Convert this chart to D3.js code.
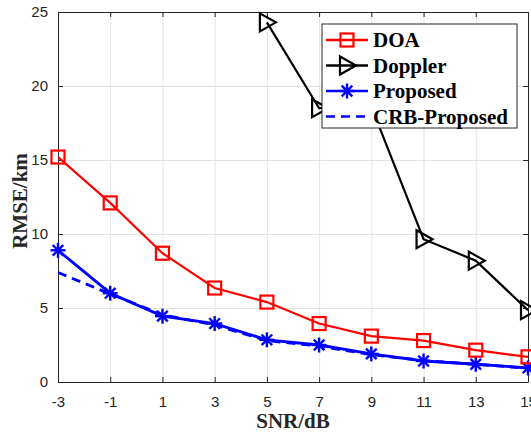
<!DOCTYPE html>
<html>
<head>
<meta charset="utf-8">
<script src="https://cdn.jsdelivr.net/npm/d3@7"></script>
<style>
  body { margin: 0; background: #fff; }
  svg { display: block; }
  .tick text { font-family: "Liberation Sans", Arial, sans-serif; font-size: 15px; fill: #262626; }
  .axis-label { font-family: "Liberation Serif", "Times New Roman", serif; font-weight: bold; font-size: 21px; fill: #262626; }
  .legend-text { font-family: "Liberation Serif", "Times New Roman", serif; font-weight: bold; font-size: 21px; fill: #000; }
</style>
</head>
<body>
<script>
var snr = [-3, -1, 1, 3, 5, 7, 9, 11, 13, 15];
var doa = [15.2, 12.1, 8.7, 6.35, 5.4, 3.95, 3.1, 2.8, 2.15, 1.7];
var dopplerSnr = [5, 7, 9, 11, 13, 15];
var doppler = [24.3, 18.5, 18.6, 9.65, 8.2, 4.85];
var proposed = [8.9, 6.0, 4.45, 3.95, 2.85, 2.5, 1.9, 1.42, 1.2, 0.95];
var crb = [7.4, 5.95, 4.55, 3.85, 2.8, 2.42, 1.85, 1.45, 1.2, 0.93];
var xTicks = [-3, -1, 1, 3, 5, 7, 9, 11, 13, 15];
var yTicks = [0, 5, 10, 15, 20, 25];

var W = 531, H = 435;
var margin = {top: 12, right: 3, bottom: 53, left: 58},
    width = W - margin.left - margin.right,
    height = H - margin.top - margin.bottom;

var x = d3.scaleLinear().domain([-3, 15]).range([0, width]);
var y = d3.scaleLinear().domain([0, 25]).range([height, 0]);
var plain = function(d) { return String(d); };

var svg = d3.select("body").append("svg")
    .attr("width", W)
    .attr("height", H);
var g = svg.append("g")
    .attr("transform", "translate(" + margin.left + "," + margin.top + ")");

svg.append("defs").append("clipPath").attr("id", "clip")
  .append("rect").attr("width", width).attr("height", height);

// grid
g.append("g")
    .attr("transform", "translate(0," + height + ")")
    .call(d3.axisBottom(x).tickValues(xTicks).tickSize(-height).tickFormat(""))
    .call(function(s) { s.select(".domain").remove(); s.selectAll("line").attr("stroke", "#e3e3e3"); });
g.append("g")
    .call(d3.axisLeft(y).tickValues(yTicks).tickSize(-width).tickFormat(""))
    .call(function(s) { s.select(".domain").remove(); s.selectAll("line").attr("stroke", "#e3e3e3"); });

// axes (box with inward ticks)
function styleAxis(s) {
  s.select(".domain").attr("stroke", "#262626");
  s.selectAll(".tick line").attr("stroke", "#262626");
}
g.append("g")
    .attr("transform", "translate(0," + height + ")")
    .call(d3.axisBottom(x).tickValues(xTicks).tickFormat(plain).tickSizeInner(-5).tickSizeOuter(0).tickPadding(14))
    .call(styleAxis);
g.append("g")
    .call(d3.axisTop(x).tickValues(xTicks).tickSizeInner(-5).tickSizeOuter(0).tickFormat(""))
    .call(styleAxis);
g.append("g")
    .call(d3.axisLeft(y).tickValues(yTicks).tickFormat(plain).tickSizeInner(-5).tickSizeOuter(0).tickPadding(10))
    .call(styleAxis);
g.append("g")
    .attr("transform", "translate(" + width + ",0)")
    .call(d3.axisRight(y).tickValues(yTicks).tickSizeInner(-5).tickSizeOuter(0).tickFormat(""))
    .call(styleAxis);

// axis labels
svg.append("text")
    .attr("class", "axis-label")
    .attr("x", 293)
    .attr("y", 428)
    .attr("text-anchor", "middle")
    .text("SNR/dB");
svg.append("text")
    .attr("class", "axis-label")
    .attr("transform", "translate(27," + (margin.top + height / 2 + 4) + ") rotate(-90)")
    .attr("text-anchor", "middle")
    .text("RMSE/km");

var line = d3.line().x(function(d) { return x(d[0]); }).y(function(d) { return y(d[1]); });
var plot = g.append("g");

function drawSquare(sel, cx, cy, color) {
  sel.append("rect").attr("x", cx - 6.5).attr("y", cy - 6.5).attr("width", 13).attr("height", 13)
    .attr("fill", "none").attr("stroke", color).attr("stroke-width", 2.2);
}
function drawTriangle(sel, cx, cy, color) {
  var p = [[cx - 7, cy - 9], [cx + 9, cy], [cx - 7, cy + 9]];
  sel.append("path").attr("d", "M" + p.join("L") + "Z")
    .attr("fill", "none").attr("stroke", color).attr("stroke-width", 2.2);
}
function drawStar(sel, cx, cy, color) {
  var r = 7.5;
  [0, 45, 90, 135].forEach(function(a) {
    var rad = a * Math.PI / 180;
    sel.append("line")
      .attr("x1", cx - r * Math.cos(rad)).attr("y1", cy - r * Math.sin(rad))
      .attr("x2", cx + r * Math.cos(rad)).attr("y2", cy + r * Math.sin(rad))
      .attr("stroke", color).attr("stroke-width", 2.4);
  });
}

// CRB (dashed)
plot.append("path")
    .datum(d3.zip(snr, crb))
    .attr("d", line).attr("fill", "none").attr("stroke", "#0000ff")
    .attr("stroke-width", 2.8).attr("stroke-dasharray", "9,6")
    .attr("clip-path", "url(#clip)");

// Proposed
plot.append("path")
    .datum(d3.zip(snr, proposed))
    .attr("d", line).attr("fill", "none").attr("stroke", "#0000ff").attr("stroke-width", 2.8)
    .attr("clip-path", "url(#clip)");
snr.forEach(function(v, i) { drawStar(plot, x(v), y(proposed[i]), "#0000ff"); });

// DOA
plot.append("path")
    .datum(d3.zip(snr, doa))
    .attr("d", line).attr("fill", "none").attr("stroke", "#ff0000").attr("stroke-width", 2.2)
    .attr("clip-path", "url(#clip)");
snr.forEach(function(v, i) { drawSquare(plot, x(v), y(doa[i]), "#ff0000"); });

// Doppler
plot.append("path")
    .datum(d3.zip(dopplerSnr, doppler))
    .attr("d", line).attr("fill", "none").attr("stroke", "#000").attr("stroke-width", 2.2)
    .attr("clip-path", "url(#clip)");
dopplerSnr.forEach(function(v, i) { drawTriangle(plot, x(v), y(doppler[i]), "#000"); });

// legend
var lg = svg.append("g").attr("transform", "translate(322,24)");
lg.append("rect").attr("width", 195).attr("height", 104)
    .attr("fill", "#fff").attr("stroke", "#262626").attr("stroke-width", 1);
var items = [
  {name: "DOA", color: "#ff0000", marker: drawSquare, dash: null},
  {name: "Doppler", color: "#000", marker: drawTriangle, dash: null},
  {name: "Proposed", color: "#0000ff", marker: drawStar, dash: null},
  {name: "CRB-Proposed", color: "#0000ff", marker: null, dash: "9,6"}
];
items.forEach(function(it, i) {
  var cy = 16 + i * 25.5;
  var l = lg.append("line").attr("x1", 4).attr("x2", 46).attr("y1", cy).attr("y2", cy)
    .attr("stroke", it.color).attr("stroke-width", 2.4);
  if (it.dash) l.attr("stroke-dasharray", it.dash);
  if (it.marker) it.marker(lg, 25, cy, it.color);
  lg.append("text").attr("class", "legend-text")
    .attr("x", 51).attr("y", cy + 7).text(it.name);
});
</script>
</body>
</html>
